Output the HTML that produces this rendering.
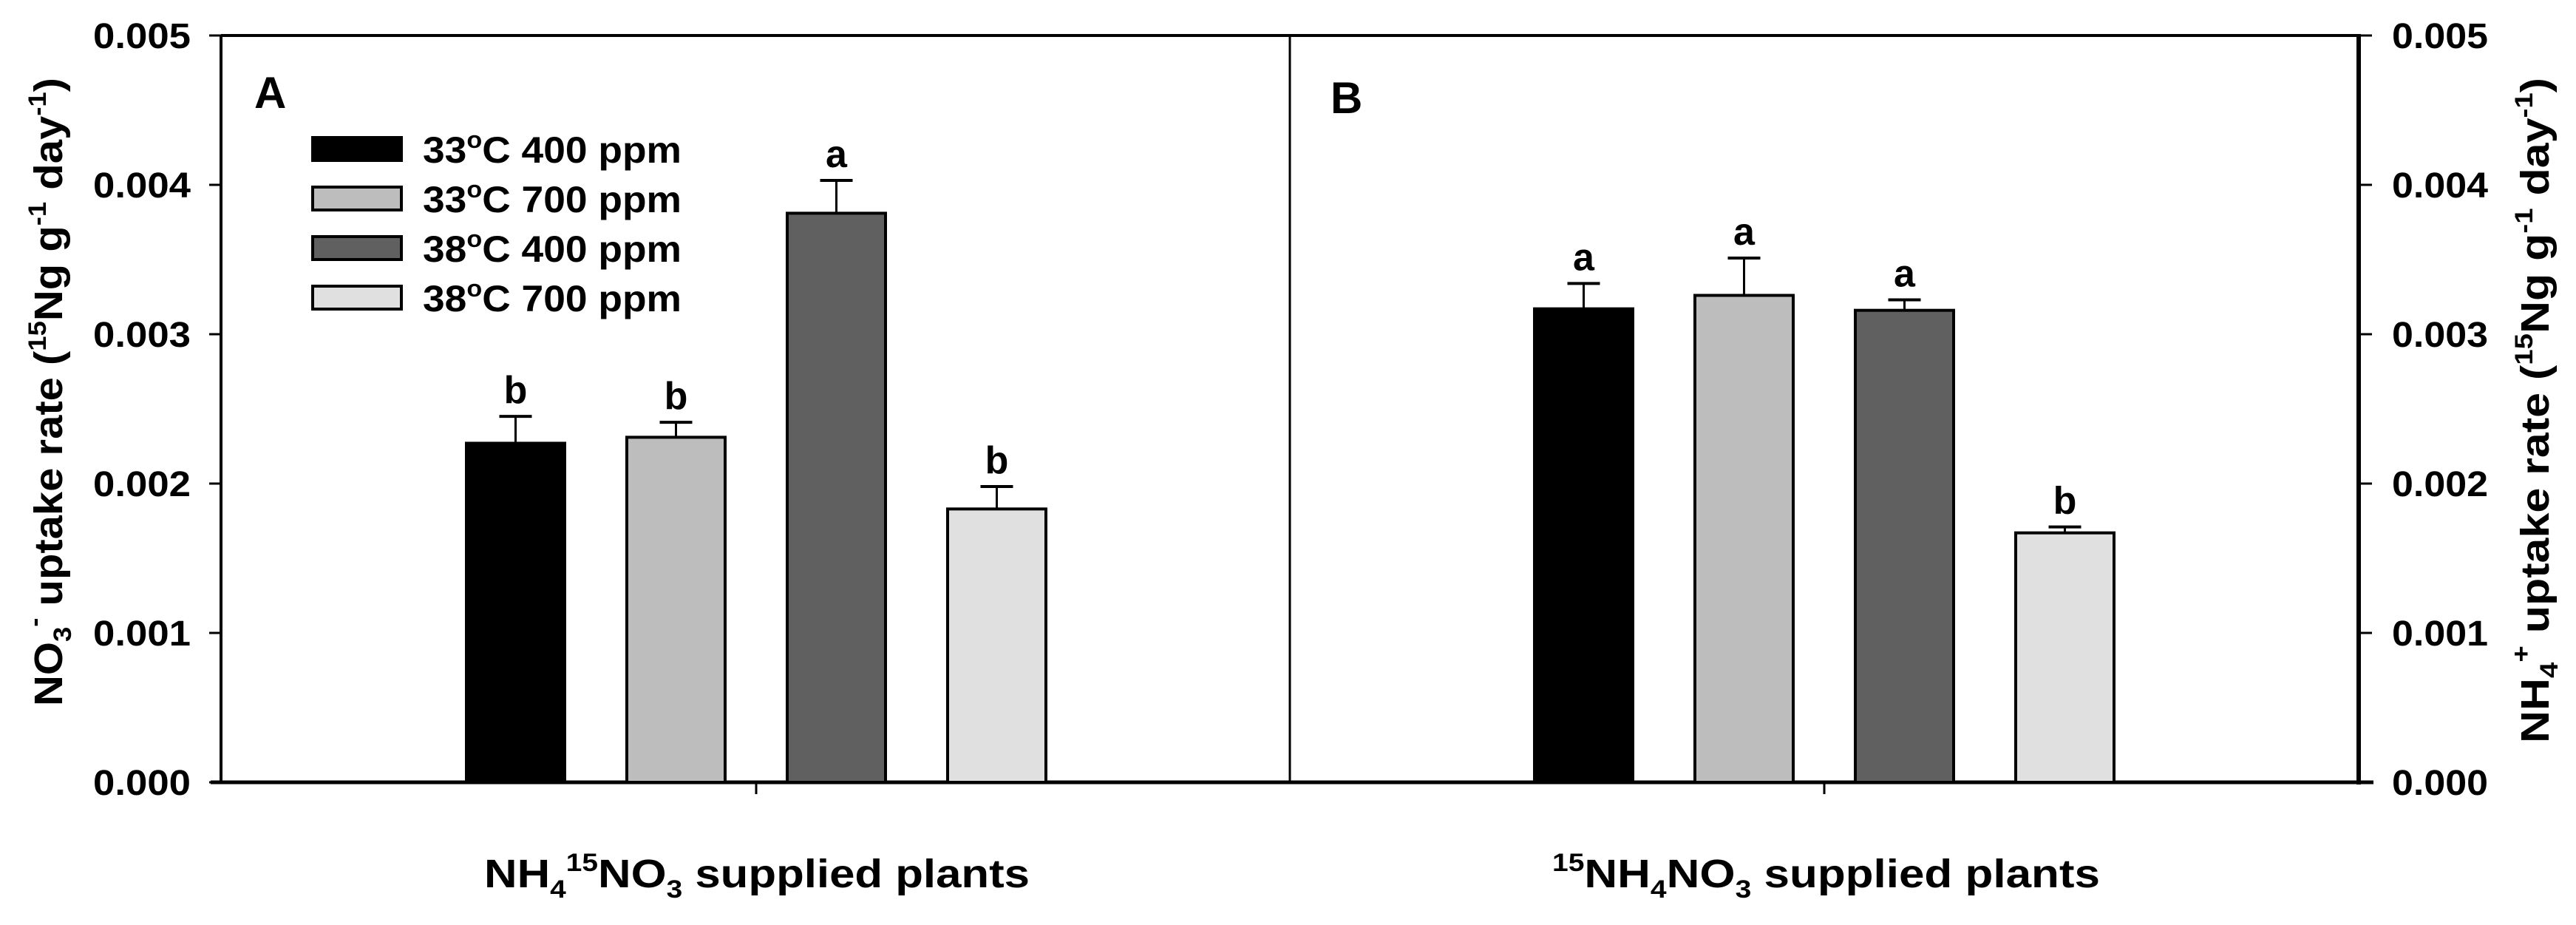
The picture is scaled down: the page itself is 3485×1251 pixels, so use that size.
<!DOCTYPE html>
<html><head><meta charset="utf-8"><style>
html,body{margin:0;padding:0;background:#fff;}
svg{display:block;font-family:"Liberation Sans",Arial,sans-serif;font-weight:bold;}
</style></head><body>
<svg id="chart" width="3485" height="1251" viewBox="0 0 3485 1251" xmlns="http://www.w3.org/2000/svg">
<g id="axes"></g>
<g id="bars"></g>
<g id="legend"></g>
</svg>
<script>
const groups = ["NH4 15NO3 supplied plants", "15NH4NO3 supplied plants"];
const seriesNames = ["33°C 400 ppm", "33°C 700 ppm", "38°C 400 ppm", "38°C 700 ppm"];
const valuesA = [0.00227, 0.00231, 0.00381, 0.00183];
const errorsA = [0.00018, 0.00010, 0.00022, 0.00015];
const lettersA = ["b", "b", "a", "b"];
const valuesB = [0.00317, 0.00326, 0.00316, 0.00167];
const errorsB = [0.00017, 0.00025, 0.00007, 0.00004];
const lettersB = ["a", "a", "a", "b"];
const yTicks = [0, 0.001, 0.002, 0.003, 0.004, 0.005];
const yTickLabels = ["0.000", "0.001", "0.002", "0.003", "0.004", "0.005"];

const NS = "http://www.w3.org/2000/svg";
const fills = ["#000000", "#bdbdbd", "#606060", "#e0e0e0"];
const X0 = 299, X1 = 3191, YT = 48, YB = 1058, YMAX = 0.005;
const MID = (X0 + X1) / 2;
function yScale(v) { return YB - (v / YMAX) * (YB - YT); }
const groupCenters = [1023, 2468];
const barW = 133, barStep = 217;
function xBar(g, i) { return groupCenters[g] + (i - 1.5) * barStep - barW / 2; }

function mk(tag, attrs, parent) {
  const e = document.createElementNS(NS, tag);
  for (const k in attrs) e.setAttribute(k, attrs[k]);
  parent.appendChild(e);
  return e;
}
const axes = document.getElementById("axes");
const barsG = document.getElementById("bars");
const legendG = document.getElementById("legend");

// frame
let el;
el = mk("line", {x1: X0, y1: YT, x2: X1, y2: YT, stroke: "#000", "stroke-width": 4}, axes);


el = mk("line", {x1: X0, y1: YT, x2: X0, y2: YB + 2, stroke: "#000", "stroke-width": 4}, axes);


el = mk("line", {x1: X1, y1: YT - 2, x2: X1, y2: YB + 3, stroke: "#000", "stroke-width": 6}, axes);


el = mk("line", {x1: X0 - 14, y1: YB, x2: X1 + 20, y2: YB, stroke: "#000", "stroke-width": 5}, axes);


el = mk("line", {x1: MID, y1: YT, x2: MID, y2: YB, stroke: "#000", "stroke-width": 3}, axes);



yTicks.forEach((v, i) => {
  const y = yScale(v);
  let t = mk("line", {x1: X0 - 16, y1: y, x2: X0, y2: y, stroke: "#000", "stroke-width": 3}, axes);
  
  
  t = mk("line", {x1: X1, y1: y, x2: X1 + 18, y2: y, stroke: "#000", "stroke-width": 3}, axes);
  
  
  let l = mk("text", {x: 126, y: y + 17, "font-size": 48, textLength: 132, lengthAdjust: "spacingAndGlyphs"}, axes);
  l.textContent = yTickLabels[i];
  
  
  l = mk("text", {x: 3236, y: y + 17, "font-size": 48, textLength: 130, lengthAdjust: "spacingAndGlyphs"}, axes);
  l.textContent = yTickLabels[i];
  
  
});
groupCenters.forEach(c => {
  const t = mk("line", {x1: c, y1: YB, x2: c, y2: YB + 16, stroke: "#000", "stroke-width": 3}, axes);
  
  
});

// panel letters
el = mk("text", {x: 344, y: 146, "font-size": 60}, axes); el.textContent = "A";


el = mk("text", {x: 1800, y: 153, "font-size": 60}, axes); el.textContent = "B";



// x labels
el = mk("text", {x: 655, y: 1200, "font-size": 54, textLength: 738, lengthAdjust: "spacingAndGlyphs", "font-weight": "bold"}, axes);
el.innerHTML = 'NH<tspan font-size="34" dy="14">4</tspan><tspan font-size="34" dy="-36">15</tspan><tspan dy="22">NO</tspan><tspan font-size="34" dy="14">3</tspan><tspan dy="-14"> supplied plants</tspan>';


el = mk("text", {x: 2100, y: 1200, "font-size": 54, textLength: 741, lengthAdjust: "spacingAndGlyphs"}, axes);
el.innerHTML = '<tspan font-size="34" dy="-22">15</tspan><tspan dy="22">NH</tspan><tspan font-size="34" dy="14">4</tspan><tspan dy="-14">NO</tspan><tspan font-size="34" dy="14">3</tspan><tspan dy="-14"> supplied plants</tspan>';



// y titles
el = mk("text", {x: 0, y: 0, "font-size": 54, transform: "translate(84,955) rotate(-90)", textLength: 850, lengthAdjust: "spacingAndGlyphs"}, axes);
el.innerHTML = 'NO<tspan font-size="34" dy="12">3</tspan><tspan font-size="34" dy="-38">-</tspan><tspan dy="26"> uptake rate (</tspan><tspan font-size="34" dy="-22">15</tspan><tspan dy="22">Ng g</tspan><tspan font-size="34" dy="-22">-1</tspan><tspan dy="22"> day</tspan><tspan font-size="34" dy="-22">-1</tspan><tspan dy="22">)</tspan>';


el = mk("text", {x: 0, y: 0, "font-size": 54, transform: "translate(3448,1005) rotate(-90)", textLength: 900, lengthAdjust: "spacingAndGlyphs"}, axes);
el.innerHTML = 'NH<tspan font-size="34" dy="12">4</tspan><tspan font-size="34" dy="-38">+</tspan><tspan dy="26"> uptake rate (</tspan><tspan font-size="34" dy="-22">15</tspan><tspan dy="22">Ng g</tspan><tspan font-size="34" dy="-22">-1</tspan><tspan dy="22"> day</tspan><tspan font-size="34" dy="-22">-1</tspan><tspan dy="22">)</tspan>';



// bars
[[valuesA, errorsA, lettersA], [valuesB, errorsB, lettersB]].forEach((set, g) => {
  const [vals, errs, lets] = set;
  vals.forEach((v, i) => {
    const x = xBar(g, i), y = yScale(v), ye = yScale(v + errs[i]), cx = x + barW / 2;
    const r = mk("rect", {x: x, y: y, width: barW, height: YB - y, fill: fills[i], stroke: "#000", "stroke-width": 4}, barsG);
    
    
    const e1 = mk("line", {x1: cx, y1: y, x2: cx, y2: ye, stroke: "#000", "stroke-width": 3}, barsG);
    
    
    const e2 = mk("line", {x1: cx - 22, y1: ye, x2: cx + 22, y2: ye, stroke: "#000", "stroke-width": 4}, barsG);
    
    
    const t = mk("text", {x: cx, y: ye - 18, "font-size": 52, "text-anchor": "middle"}, barsG);
    t.textContent = lets[i];
    
    
  });
});

// legend
seriesNames.forEach((n, i) => {
  const y = 186 + i * 67;
  const r = mk("rect", {x: 423, y: y, width: 120, height: 31, fill: fills[i], stroke: "#000", "stroke-width": 4}, legendG);
  
  
  const t = mk("text", {x: 572, y: y + 34, "font-size": 50, textLength: 350, lengthAdjust: "spacingAndGlyphs"}, legendG);
  t.innerHTML = n.slice(0, 2) + '<tspan font-size="32" dy="-20">o</tspan><tspan dy="20">' + n.slice(3) + '</tspan>';
  
  
});
</script>
</body></html>
